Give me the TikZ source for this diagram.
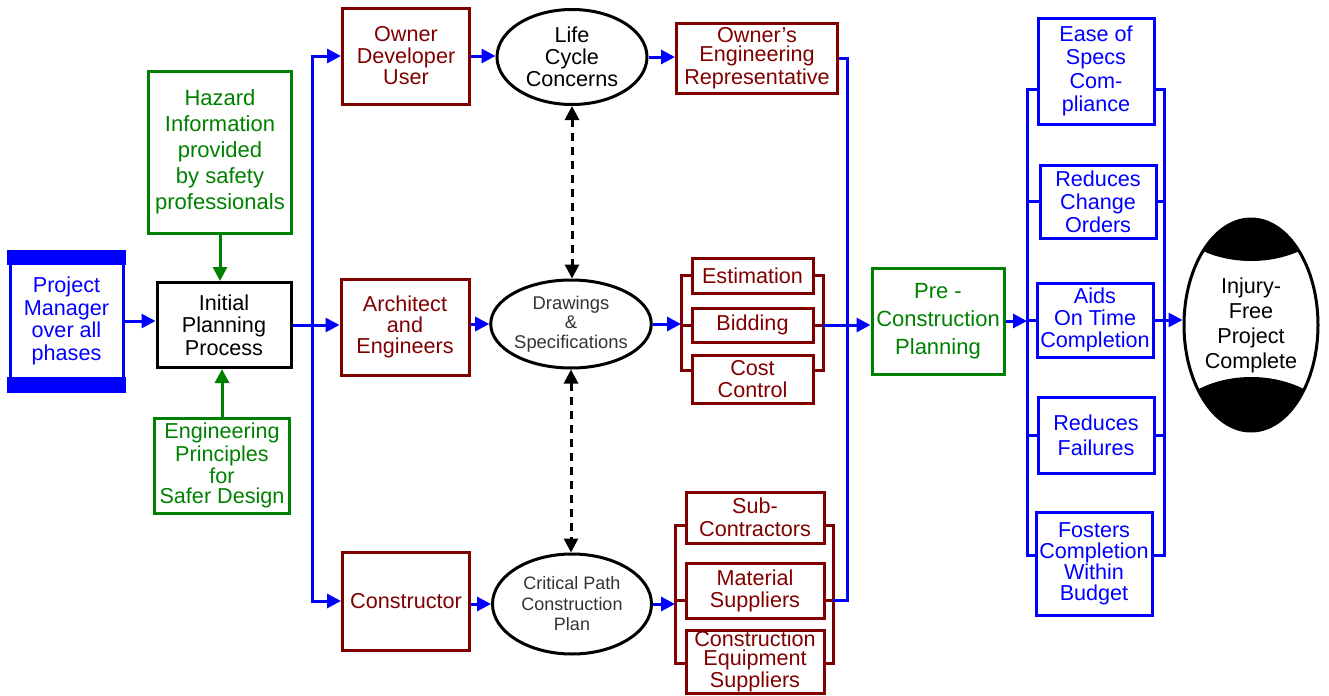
\documentclass[tikz,border=0pt]{standalone}
\usepackage{fontspec}
\setmainfont{Liberation Sans}
\usetikzlibrary{arrows.meta,shapes.geometric,calc}
\definecolor{dred}{RGB}{128,0,0}
\definecolor{dgreen}{RGB}{0,128,0}
\definecolor{pblue}{RGB}{0,0,255}
\newcommand{\setfs}[2]{\fontsize{#1}{#2}\selectfont}
\begin{document}
\begin{tikzpicture}[x=0.5pt,y=-0.5pt,
  bx/.style={draw, line width=1.5pt, rectangle, inner sep=0pt, align=center},
  redbox/.style={bx, draw=dred, text=dred},
  grnbox/.style={bx, draw=dgreen, text=dgreen},
  blubox/.style={bx, draw=pblue, text=pblue},
  ell/.style={draw, ellipse, line width=1.5pt, inner sep=0pt, align=center},
  bl/.style={draw=pblue, line width=1.5pt},
  drl/.style={draw=dred, line width=1.5pt},
  barrow/.style={bl, -{Triangle[length=7pt,width=7pt]}},
  garrow/.style={draw=dgreen, line width=1.5pt, -{Triangle[length=7pt,width=7pt]}},
  darrow/.style={draw=black, line width=1.5pt, dash pattern=on 4pt off 3pt,
     {Triangle[length=7pt,width=7pt]}-{Triangle[length=7pt,width=7pt]}},
]
\useasboundingbox (0,0) rectangle (1329,696);

% left part
\node[blubox, minimum width=56.5pt, minimum height=70pt, font=\setfs{10.8}{11.3}] (pm) at (66.5,321) {Project\\Manager\\over all\\phases};
\fill[pblue] ($(pm.north west)+(-1.5,0)$) rectangle ($(pm.north east)+(1.5,15)$);
\fill[pblue] ($(pm.south west)+(-1.5,0)$) rectangle ($(pm.south east)+(1.5,-16)$);

\node[bx, minimum width=67pt, minimum height=42.5pt, font=\setfs{10.8}{11.25}] (ipp) at (224,325) {Initial\\Planning\\Process};
\node[grnbox, minimum width=71.5pt, minimum height=81pt, font=\setfs{11}{13}] (haz) at (220,152) {Hazard\\Information\\provided\\by safety\\professionals};
\node[grnbox, minimum width=67.5pt, minimum height=47.5pt, font=\setfs{10.8}{10}] (ep) at (222,465.5) {Engineering\\Principles\\for\\Safer Design};

\draw[barrow] (pm.east) -- (pm.east -| ipp.west);
\draw[garrow] (haz.south) -- (haz.south |- ipp.north);
\draw[garrow] (ep.north) -- (ep.north |- ipp.south);

% second column
\node[redbox, minimum width=63.5pt, minimum height=48pt, font=\setfs{10.8}{10.75}] (owner) at (406,56) {Owner\\Developer\\User};
\node[redbox, minimum width=64pt, minimum height=48pt, font=\setfs{10.8}{10.5}] (arch) at (405,327) {Architect\\and\\Engineers};
\node[redbox, minimum width=63.5pt, minimum height=49pt, font=\setfs{10.8}{11}] (constructor) at (406,601) {Constructor};

\coordinate (bus) at (312,325);
\draw[bl] (ipp.east) -- (bus);
\draw[barrow] (bus) -- (bus -| arch.west);
\draw[barrow] (bus) |- (owner.west);
\draw[barrow] (bus) |- (constructor.west);

% ellipses
\node[ell, minimum width=75pt, minimum height=47.5pt, font=\setfs{10.8}{11}] (lcc) at (572,57) {Life\\Cycle\\Concerns};
\node[ell, minimum width=79pt, minimum height=44pt, text=black!80, font=\setfs{9.2}{9.75}] (ds) at (571,324) {Drawings\\\&\\Specifications};
\node[ell, minimum width=79.5pt, minimum height=50pt, text=black!80, font=\setfs{9}{10.25}] (cp) at (572,604) {Critical Path\\Construction\\Plan};

\draw[barrow] (owner.east) -- (owner.east -| lcc.west);
\draw[barrow] (arch.east |- ds.west) -- (ds.west);
\draw[barrow] (constructor.east |- cp.west) -- (cp.west);
\draw[darrow] (lcc.south) -- (lcc.south |- ds.north);
\draw[darrow] (ds.south) -- (ds.south |- cp.north);

% owner's engineering representative
\node[redbox, minimum width=80.5pt, minimum height=35pt, font=\setfs{10.8}{9.75}] (oer) at (757,58) {Owner's\\Engineering\\Representative};
\draw[barrow] (lcc.east) -- (lcc.east -| oer.west);

% estimation stack
\node[redbox, minimum width=60.5pt, minimum height=17.5pt, font=\setfs{10.8}{11}] (est) at (752.5,275.5) {Estimation};
\node[redbox, minimum width=60.5pt, minimum height=17pt, font=\setfs{10.8}{11}] (bid) at (752.5,325) {Bidding};
\node[redbox, minimum width=60.5pt, minimum height=24pt, font=\setfs{10.8}{11}] (cost) at (752.5,379) {Cost\\Control};
\coordinate (eL) at (681,325);
\coordinate (eR) at (823,325);
\draw[drl] (est.west) -| ([yshift=4.5pt]cost.west -| eL) -- ([yshift=4.5pt]cost.west);
\draw[drl] (bid.west) -- (eL);
\draw[drl] (est.east) -| ([yshift=4.5pt]cost.east -| eR) -- ([yshift=4.5pt]cost.east);
\draw[drl] (bid.east) -- (eR);
\draw[barrow] (ds.east) -- (ds.east -| eL);

% subcontractor stack
\node[redbox, minimum width=69pt, minimum height=25.5pt, font=\setfs{10.8}{11.5}] (sub) at (755,517.5) {Sub-\\Contractors};
\node[redbox, minimum width=69pt, minimum height=27.5pt, font=\setfs{10.8}{11}] (mat) at (755,590.5) {Material\\Suppliers};
\node[redbox, minimum width=69pt, minimum height=31.5pt, font=\setfs{10.8}{9.25}] (ces) at (755,661.5) {Construction\\Equipment\\Suppliers};
\coordinate (sL) at (675,600);
\coordinate (sR) at (833,600);
\draw[drl] ([yshift=-3.75pt]sub.west) -| ([yshift=-0.75pt]ces.west -| sL) -- ([yshift=-0.75pt]ces.west);
\draw[drl] (sL) -- (sL -| mat.west);
\draw[drl] ([yshift=-3.75pt]sub.east) -| ([yshift=-0.75pt]ces.east -| sR) -- ([yshift=-0.75pt]ces.east);
\draw[drl] (sR -| mat.east) -- (sR);
\draw[barrow] (cp.east) -- (cp.east -| sL);

% collector to pre-construction
\coordinate (vR) at (847,600);
\draw[bl] (sR) -- (vR) |- (oer.east);
\node[grnbox, minimum width=66pt, minimum height=53pt, font=\setfs{11}{14}] (pcp) at (938,321) {Pre -\\Construction\\Planning};
\draw[barrow] (eR) -- (eR -| pcp.west);

% right column
\node[blubox, minimum width=58pt, minimum height=53pt, font=\setfs{10.8}{11.65}] (ease) at (1096,71) {Ease of\\Specs\\Com-\\pliance};
\node[blubox, minimum width=58pt, minimum height=36.5pt, font=\setfs{10.8}{11.5}] (chg) at (1098,201.5) {Reduces\\Change\\Orders};
\node[blubox, minimum width=58pt, minimum height=37pt, font=\setfs{10.8}{11}] (aids) at (1095,320) {Aids\\On Time\\Completion};
\node[blubox, minimum width=58pt, minimum height=38pt, font=\setfs{10.8}{12.5}] (fail) at (1096,435) {Reduces\\Failures};
\node[blubox, minimum width=58pt, minimum height=51.5pt, font=\setfs{10.8}{10.5}] (fost) at (1094,563.5) {Fosters\\Completion\\Within\\Budget};
\coordinate (rL) at (1027,322);
\coordinate (rR) at (1164,322);
\draw[barrow] (pcp.east) -- (pcp.east -| rL);
\draw[bl] ([yshift=-9pt]ease.west) -| ([yshift=4.25pt]fost.west -| rL) -- ([yshift=4.25pt]fost.west);
\draw[bl] (chg.west) -- (chg.west -| rL);
\draw[bl] (aids.west) -- (aids.west -| rL);
\draw[bl] (fail.west) -- (fail.west -| rL);
\draw[bl] ([yshift=-9pt]ease.east) -| ([yshift=4.25pt]fost.east -| rR) -- ([yshift=4.25pt]fost.east);
\draw[bl] (chg.east) -- (chg.east -| rR);
\draw[bl] (aids.east) -- (aids.east -| rR);
\draw[bl] (fail.east) -- (fail.east -| rR);

% injury-free ellipse with caps
\coordinate (injc) at (1251,325);
\begin{scope}
  \clip (injc) ellipse [x radius=33.5pt, y radius=53pt];
  \fill[black] (1150,150) -- (1350,150) -- (1350,240) -- (1318,240) .. controls (1282,268) and (1220,268) .. (1185,240) -- (1150,240) -- cycle;
  \fill[black] (1150,500) -- (1350,500) -- (1350,398) -- (1318,398) .. controls (1282,370) and (1220,370) .. (1185,398) -- (1150,398) -- cycle;
\end{scope}
\node[ell, minimum width=67pt, minimum height=106pt, font=\setfs{10.8}{12.5}] (inj) at (injc) {Injury-\\Free\\Project\\Complete};
\draw[barrow] (aids.east -| rR) -- (aids.east -| inj.west);
\end{tikzpicture}
\end{document}
